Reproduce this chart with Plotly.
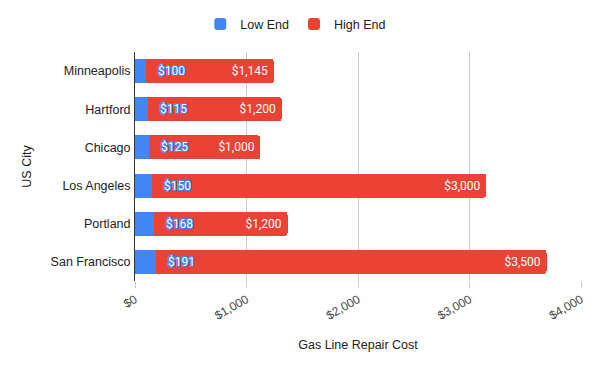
import plotly.graph_objects as go

cities = ["Minneapolis", "Hartford", "Chicago", "Los Angeles", "Portland", "San Francisco"]
low_end = [100, 115, 125, 150, 168, 191]
high_end = [1145, 1200, 1000, 3000, 1200, 3500]
tick_vals = [0, 1000, 2000, 3000, 4000]
tick_text = ["$0", "$1,000", "$2,000", "$3,000", "$4,000"]

BLUE = "#4285F4"
RED = "#EA4335"

fig = go.Figure()
fig.add_trace(go.Bar(
    y=cities, x=low_end, orientation="h", name="Low End",
    marker=dict(color=BLUE, line=dict(width=0)),
    hoverinfo="x+y",
))
fig.add_trace(go.Bar(
    y=cities, x=high_end, orientation="h", name="High End",
    marker=dict(color=RED, line=dict(width=0)),
    text=[f"${v:,}\u00a0" for v in high_end],
    textposition="inside", insidetextanchor="end",
    textfont=dict(family="Roboto", size=12, color="white"),
    cliponaxis=False,
))

outline = ", ".join(f"{dx}px {dy}px 0 {BLUE}" for dx, dy in
                    [(1, 1), (-1, -1), (1, -1), (-1, 1), (1, 0), (-1, 0), (0, 1), (0, -1)])
for c, v in zip(cities, low_end):
    fig.add_annotation(
        x=v, y=c, xref="x", yref="y", text=f"${v}", showarrow=False,
        xanchor="left", xshift=10,
        font=dict(family="Roboto", size=12, color="white", shadow=outline),
    )

fig.update_layout(
    barmode="stack",
    bargap=0.37,
    barcornerradius=3,
    width=600, height=371,
    margin=dict(l=135, r=19, t=52, b=90, autoexpand=False),
    paper_bgcolor="white", plot_bgcolor="white",
    font=dict(family="Liberation Sans, Arial, sans-serif", size=12, color="#222222"),
    legend=dict(orientation="h", x=0.493, xanchor="center", xref="container",
                y=0.975, yanchor="top", yref="container",
                font=dict(size=12.5, color="#222222"),
                traceorder="normal", itemwidth=30),
    showlegend=True,
)

fig.update_xaxes(
    range=[0, 4000], tickvals=tick_vals, ticktext=tick_text, tickangle=-30,
    showgrid=True, gridcolor="#cccccc", gridwidth=1, zeroline=False,
    ticks="outside", ticklen=6, tickcolor="#cccccc", automargin=False,
    title=dict(text="Gas Line Repair Cost", font=dict(size=12.5, color="#222222"), standoff=18),
    tickfont=dict(size=12, color="#444444"),
)
fig.update_yaxes(
    autorange="reversed", showline=True, linecolor="#333333", linewidth=1,
    ticks="", ticklabelstandoff=1, automargin=False,
    title=dict(text="US City", font=dict(size=12.5, color="#222222"), standoff=16),
    tickfont=dict(size=12.5, color="#222222"),
)

fig.write_html("out.html", config={"displayModeBar": False},
               post_script="document.body.style.margin='0';document.body.style.padding='0';")
